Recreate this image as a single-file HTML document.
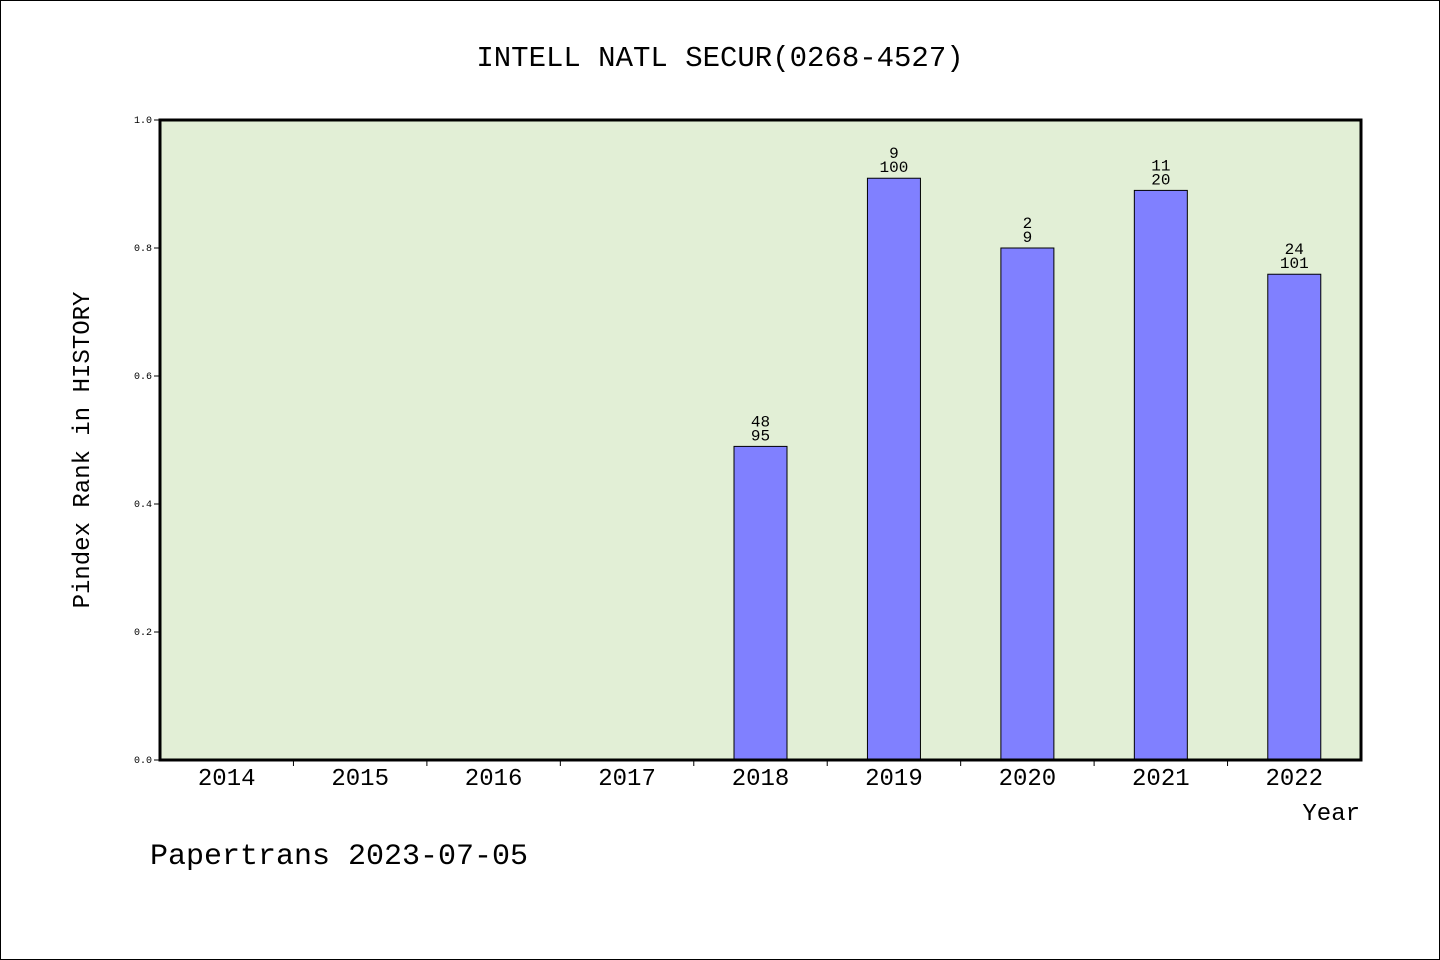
<!DOCTYPE html>
<html><head><meta charset="utf-8"><style>
html,body{margin:0;padding:0;background:#fff}
svg{display:block}
text{font-family:"Liberation Mono","WenQuanYi Zen Hei",monospace;fill:#000}
</style></head><body>
<svg id="chart" width="1440" height="960">
<rect x="0.5" y="0.5" width="1439" height="959" fill="#fff" stroke="#000"/>
<text x="720" y="66" font-size="29" text-anchor="middle">INTELL NATL SECUR(0268-4527)</text>
<rect x="160" y="120" width="1201" height="640" fill="#e2efd6"/>
<g id="yaxis"></g>
<g id="xaxis"></g>
<g id="bars"></g>
<rect x="160" y="120" width="1201" height="640" fill="none" stroke="#000" stroke-width="3"/>
<text transform="translate(89,450) rotate(-90)" font-size="24" text-anchor="middle">Pindex Rank in HISTORY</text>
<text x="1360" y="820" font-size="24" text-anchor="end">Year</text>
<text x="150" y="864" font-size="30">Papertrans 2023-07-05</text>
</svg>
<script>
const categories=["2014","2015","2016","2017","2018","2019","2020","2021","2022"];
const values=[null,null,null,null,0.49,0.909,0.8,0.89,0.759];
const ranks=["","","","","48","9","2","11","24"];
const totals=["","","","","95","100","9","20","101"];
const yTicks=[0,0.2,0.4,0.6,0.8,1.0];
const yTickLabels=["0.0","0.2","0.4","0.6","0.8","1.0"];
const NS="http://www.w3.org/2000/svg";
const L=160,R=1361,T=120,B=760,bw=(R-L)/categories.length;
const y=v=>B-(v/1)*(B-T);
const xc=i=>L+bw*(i+0.5);
function mk(tag,attrs,parent,txt){const e=document.createElementNS(NS,tag);for(const k in attrs)e.setAttribute(k,attrs[k]);if(txt!==undefined)e.textContent=txt;parent.appendChild(e);return e;}
const ya=document.getElementById('yaxis'),xa=document.getElementById('xaxis'),bg=document.getElementById('bars');
yTicks.forEach((t,i)=>{
  const l=mk('line',{x1:L-6,x2:L,y1:y(t),y2:y(t),stroke:'#000'},ya);
  
  
  const tx=mk('text',{x:L-8,y:y(t)+3,'font-size':10,'text-anchor':'end'},ya,yTickLabels[i]);
  
  
});
categories.forEach((c,i)=>{
  if(i>0){const l=mk('line',{x1:L+bw*i,x2:L+bw*i,y1:B,y2:B+6,stroke:'#000'},xa);
  
  }
  const tx=mk('text',{x:xc(i),y:B+25,'font-size':24,'text-anchor':'middle'},xa,c);
  
  
  const v=values[i];
  if(v!=null){
    const r=mk('rect',{x:xc(i)-26.5,y:y(v),width:53,height:B-y(v),fill:'#8080ff',stroke:'#000','stroke-width':1},bg);
    
    
    const a=mk('text',{x:xc(i),y:y(v)-20,'font-size':16,'text-anchor':'middle'},bg,ranks[i]);
    
    
    const b=mk('text',{x:xc(i),y:y(v)-6,'font-size':16,'text-anchor':'middle'},bg,totals[i]);
    
    
  }
});
</script>
</body></html>
